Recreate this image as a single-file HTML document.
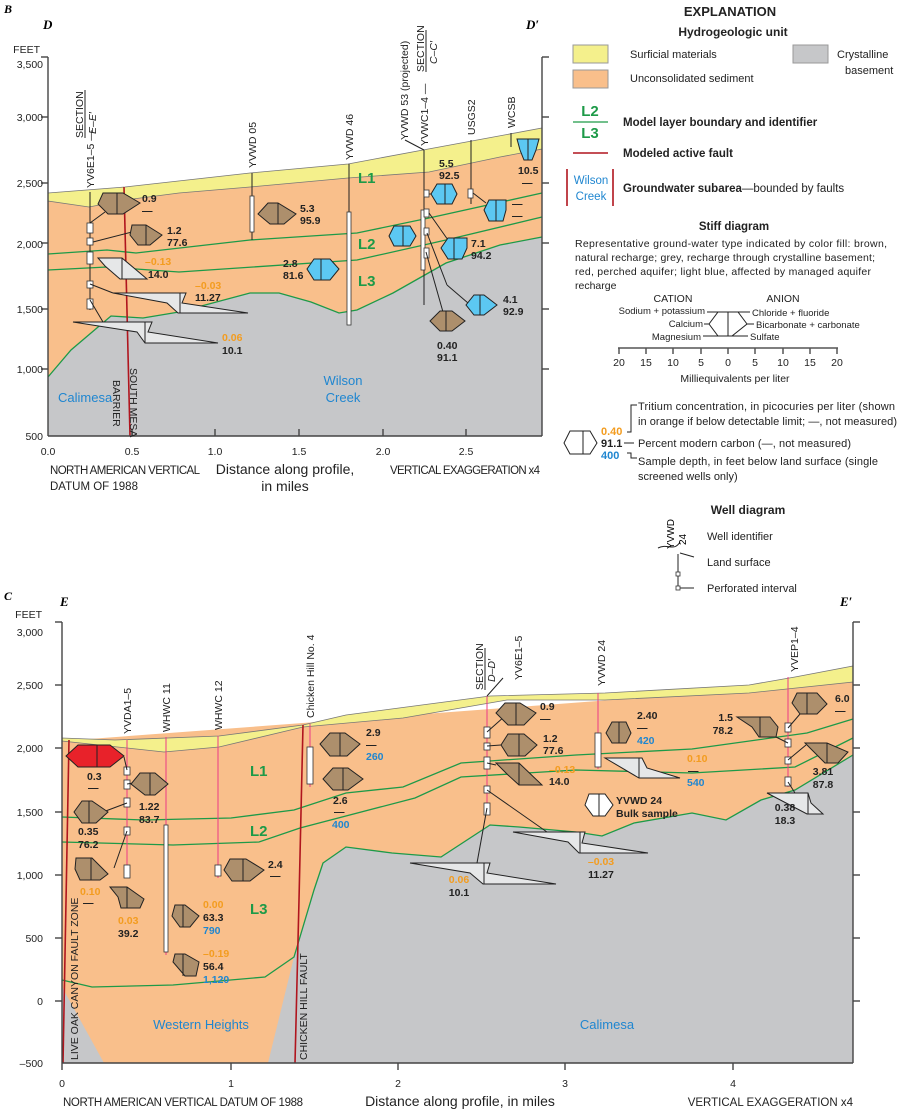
<!DOCTYPE html>
<html><head><meta charset="utf-8"><style>
html,body{margin:0;padding:0;background:#fff}
svg{display:block;font-family:"Liberation Sans",sans-serif}
.t{font-size:10.5px;fill:#222}
.b{font-weight:bold}
.o{fill:#f39c1f}
.bl{fill:#1f86d0}
.br{fill:#ad8f6c;stroke:#222;stroke-width:1}
.cb{fill:#5cc8f2;stroke:#222;stroke-width:1}
.gy{fill:#e6e7e8;stroke:#222;stroke-width:1}
.rd{fill:#e8222a;stroke:#222;stroke-width:1}
.wh{fill:#fff;stroke:#222;stroke-width:1}
.g{fill:none;stroke:#1d9a48;stroke-width:1.3}
.f{stroke:#b0151e;stroke-width:1.6;fill:none}
.w{stroke:#222;stroke-width:1;fill:none}
.pk{stroke:#ec3b86;stroke-width:1;fill:none}
.sc{fill:#fff;stroke:#333;stroke-width:0.8}
.ax{stroke:#444;stroke-width:1.4;fill:none}
.lb{font-size:11.5px;fill:#222}
.L{font-size:15px;font-weight:bold;fill:#1d9a48}
</style></head><body>
<svg width="898" height="1113" viewBox="0 0 898 1113" xmlns="http://www.w3.org/2000/svg">
<!-- ============ PANEL B ============ -->
<text x="4" y="13" class="b" style="font-size:12px;font-style:italic;font-family:'Liberation Serif',serif">B</text>
<text x="43" y="29" class="b" style="font-size:13px;font-style:italic;font-family:'Liberation Serif',serif">D</text>
<text x="526" y="29" class="b" style="font-size:13px;font-style:italic;font-family:'Liberation Serif',serif">D′</text>
<rect x="48" y="57" width="494" height="379" fill="#fff"/>
<polygon fill="#c6c7c9" points="48,377 71,350 111,316 143,318 179,312 250,293 279,293 311,302 339,313 357,310 393,293 446,263 500,245 542,237 542,436 48,436"/>
<polygon fill="#f9bf8b" points="48,201 89,207 125,200 179,193 250,187 348,178 429,172 500,157 542,149 542,237 500,245 446,263 393,293 357,310 339,313 311,302 279,293 250,293 179,312 143,318 111,316 71,350 48,377"/>
<polygon fill="#f4f08c" stroke="#777" stroke-width="0.8" points="48,193 125,187 250,173 348,164 423,150 542,128 542,149 500,157 429,172 348,178 250,187 179,193 125,200 89,207 48,201"/>
<polyline class="g" points="48,254 107,250 136,253 250,240 357,233 429,218 542,193"/>
<polyline class="g" points="48,270 107,267 179,272 357,260 446,240 542,217"/>
<polyline class="g" points="48,377 71,350 111,316 143,318 179,312 250,293 279,293 311,302 339,313 357,310 393,293 446,263 500,245 542,237"/>
<line class="f" x1="124" y1="187" x2="130" y2="436"/>
<line class="ax" x1="48" y1="57" x2="48" y2="436"/>
<line class="ax" x1="542" y1="57" x2="542" y2="436"/>
<line class="ax" x1="48" y1="436" x2="542" y2="436"/>
<line class="ax" x1="41" y1="57" x2="48" y2="57"/><line class="ax" x1="542" y1="57" x2="549" y2="57"/>
<g class="ax">
<line x1="41" y1="117" x2="48" y2="117"/><line x1="41" y1="183" x2="48" y2="183"/><line x1="41" y1="243" x2="48" y2="243"/><line x1="41" y1="309" x2="48" y2="309"/><line x1="41" y1="369" x2="48" y2="369"/>
<line x1="542" y1="117" x2="549" y2="117"/><line x1="542" y1="183" x2="549" y2="183"/><line x1="542" y1="243" x2="549" y2="243"/><line x1="542" y1="309" x2="549" y2="309"/><line x1="542" y1="369" x2="549" y2="369"/>
<line x1="132" y1="429" x2="132" y2="436"/><line x1="215" y1="429" x2="215" y2="436"/><line x1="299" y1="429" x2="299" y2="436"/><line x1="383" y1="429" x2="383" y2="436"/><line x1="466" y1="429" x2="466" y2="436"/>
</g>
<g class="t" text-anchor="end">
<text x="40" y="53">FEET</text>
<text x="43" y="68">3,500</text><text x="43" y="121">3,000</text><text x="43" y="187">2,500</text><text x="43" y="248">2,000</text><text x="43" y="313">1,500</text><text x="43" y="373">1,000</text><text x="43" y="440">500</text>
</g>
<g class="t" text-anchor="middle">
<text x="48" y="455">0.0</text><text x="132" y="455">0.5</text><text x="215" y="455">1.0</text><text x="299" y="455">1.5</text><text x="383" y="455">2.0</text><text x="466" y="455">2.5</text>
</g>
<text x="50" y="474" class="lb" textLength="150">NORTH AMERICAN VERTICAL</text>
<text x="50" y="490" class="lb">DATUM OF 1988</text>
<text x="285" y="474" text-anchor="middle" style="font-size:14px;fill:#222">Distance along profile,</text>
<text x="285" y="491" text-anchor="middle" style="font-size:14px;fill:#222">in miles</text>
<text x="390" y="474" class="lb" textLength="150">VERTICAL EXAGGERATION x4</text>
<text x="58" y="402" class="bl" style="font-size:13px">Calimesa</text>
<text x="343" y="385" class="bl" text-anchor="middle" style="font-size:13px">Wilson</text>
<text x="343" y="402" class="bl" text-anchor="middle" style="font-size:13px">Creek</text>
<text transform="translate(130,368) rotate(90)" class="t">SOUTH MESA</text>
<text transform="translate(113,380) rotate(90)" class="t">BARRIER</text>
<text x="358" y="183" class="L">L1</text><text x="358" y="249" class="L">L2</text><text x="358" y="286" class="L">L3</text>
<g class="w">
<line x1="90" y1="192" x2="90" y2="310"/><line x1="252" y1="173" x2="252" y2="240"/><line x1="349" y1="164" x2="349" y2="325"/>
<line x1="424" y1="150" x2="424" y2="305"/><line x1="471" y1="140" x2="471" y2="204"/><line x1="511" y1="133" x2="511" y2="147"/>
<line x1="424" y1="150" x2="405" y2="140"/>
</g>
<g class="sc">
<rect x="87" y="223" width="6" height="10"/><rect x="87" y="238" width="6" height="7"/><rect x="87" y="252" width="6" height="12"/><rect x="87" y="281" width="6" height="7"/><rect x="87" y="299" width="6" height="10"/>
<rect x="250" y="196" width="4" height="36"/><rect x="347" y="212" width="4" height="113"/>
<rect x="421" y="210" width="4" height="60"/>
<rect x="424" y="190" width="5" height="7"/><rect x="424" y="209" width="5" height="8"/><rect x="424" y="228" width="5" height="7"/><rect x="424" y="248" width="5" height="10"/>
<rect x="468" y="189" width="5" height="9"/>
</g>
<g class="t">
<text transform="translate(94,188) rotate(-90)">YV6E1–5 —</text>
<text transform="translate(83,138) rotate(-90)">SECTION</text>
<line x1="85" y1="90" x2="85" y2="138" stroke="#222"/>
<text transform="translate(96,134) rotate(-90)" style="font-style:italic">E–E′</text>
<text transform="translate(256,168) rotate(-90)">YVWD 05</text>
<text transform="translate(353,160) rotate(-90)">YVWD 46</text>
<text transform="translate(408,140) rotate(-90)">YVWD 53 (projected)</text>
<text transform="translate(428,146) rotate(-90)">YVWC1–4 —</text>
<text transform="translate(424,72) rotate(-90)">SECTION</text>
<line x1="426" y1="30" x2="426" y2="72" stroke="#222"/>
<text transform="translate(437,64) rotate(-90)" style="font-style:italic">C–C′</text>
<text transform="translate(475,135) rotate(-90)">USGS2</text>
<text transform="translate(515,128) rotate(-90)">WCSB</text>
</g>
<g class="w" stroke-width="0.8">
<line x1="90" y1="223" x2="105" y2="212"/><line x1="93" y1="242" x2="132" y2="232"/><line x1="90" y1="300" x2="103" y2="322"/>
<line x1="90" y1="284" x2="113" y2="293"/><line x1="429" y1="194" x2="431" y2="194"/><line x1="473" y1="193" x2="486" y2="203"/>
<line x1="429" y1="213" x2="448" y2="240"/><line x1="427" y1="233" x2="447" y2="285"/><line x1="447" y1="285" x2="468" y2="303"/><line x1="426" y1="252" x2="443" y2="312"/>
</g>
<polygon class="br" points="103,193 123,193 140,203 123,214 108,214 98,204"/><line class="w" x1="117" y1="193" x2="117" y2="214"/>
<polygon class="br" points="132,225 146,225 162,235 150,245 138,245 130,235"/><line class="w" x1="146" y1="225" x2="146" y2="245"/>
<polygon class="gy" points="98,258 122,258 147,279 120,279 105,266"/><line class="w" x1="122" y1="258" x2="122" y2="279"/>
<polygon class="gy" points="113,293 186,293 182,303 248,313 178,313 167,303"/><line class="w" x1="180" y1="293" x2="180" y2="313"/>
<polygon class="gy" points="73,322 152,322 148,332 218,343 145,343 137,332"/><line class="w" x1="145" y1="322" x2="145" y2="343"/>
<polygon class="br" points="268,203 278,203 296,214 284,224 270,224 258,214"/><line class="w" x1="278" y1="203" x2="278" y2="224"/>
<polygon class="cb" points="314,259 330,259 339,269 330,280 314,280 307,269"/><line class="w" x1="321" y1="259" x2="321" y2="280"/>
<polygon class="cb" points="394,226 410,226 416,236 410,246 394,246 389,236"/><line class="w" x1="403" y1="226" x2="403" y2="246"/>
<polygon class="cb" points="437,184 452,184 457,194 452,204 437,204 431,194"/><line class="w" x1="445" y1="184" x2="445" y2="204"/>
<polygon class="cb" points="489,200 506,200 506,210 503,221 489,221 484,210"/><line class="w" x1="496" y1="200" x2="496" y2="221"/>
<polygon class="cb" points="448,238 467,238 467,248 462,259 448,259 441,248"/><line class="w" x1="454" y1="238" x2="454" y2="259"/>
<polygon class="cb" points="474,295 484,295 497,305 484,315 474,315 466,305"/><line class="w" x1="480" y1="295" x2="480" y2="315"/>
<polygon class="br" points="440,311 452,311 465,321 452,331 440,331 430,321"/><line class="w" x1="446" y1="311" x2="446" y2="331"/>
<polygon class="cb" points="517,139 539,139 536,150 532,160 524,160 520,150"/><line class="w" x1="528" y1="139" x2="528" y2="160"/>
<g class="t b">
<text x="142" y="202">0.9</text><text x="142" y="214">—</text>
<text x="167" y="234">1.2</text><text x="167" y="246">77.6</text>
<text x="145" y="265" class="o">–0.13</text><text x="148" y="278">14.0</text>
<text x="195" y="289" class="o">–0.03</text><text x="195" y="301">11.27</text>
<text x="222" y="341" class="o">0.06</text><text x="222" y="354">10.1</text>
<text x="300" y="212">5.3</text><text x="300" y="224">95.9</text>
<text x="283" y="267">2.8</text><text x="283" y="279">81.6</text>
<text x="439" y="167">5.5</text><text x="439" y="179">92.5</text>
<text x="512" y="207">—</text><text x="512" y="219">—</text>
<text x="471" y="247">7.1</text><text x="471" y="259">94.2</text>
<text x="503" y="303">4.1</text><text x="503" y="315">92.9</text>
<text x="437" y="349">0.40</text><text x="437" y="361">91.1</text>
<text x="518" y="174">10.5</text><text x="522" y="186">—</text>
</g>

<!-- ============ LEGEND ============ -->
<g class="lb">
<text x="730" y="16" text-anchor="middle" class="b" style="font-size:13px">EXPLANATION</text>
<text x="733" y="36" text-anchor="middle" class="b" style="font-size:12px">Hydrogeologic unit</text>
<rect x="573" y="45" width="35" height="18" fill="#f4f08c" stroke="#999"/>
<rect x="573" y="70" width="35" height="18" fill="#f9bf8b" stroke="#999"/>
<rect x="793" y="45" width="35" height="18" fill="#c6c7c9" stroke="#999"/>
<text x="630" y="58" style="font-size:11px">Surficial materials</text>
<text x="630" y="82" style="font-size:11px">Unconsolidated sediment</text>
<text x="837" y="58" style="font-size:11px">Crystalline</text>
<text x="845" y="74" style="font-size:11px">basement</text>
<text x="590" y="116" text-anchor="middle" class="L">L2</text>
<line x1="573" y1="122" x2="608" y2="122" stroke="#1d9a48" stroke-width="1.3"/>
<text x="590" y="138" text-anchor="middle" class="L">L3</text>
<text x="623" y="126" class="b">Model layer boundary and identifier</text>
<line x1="573" y1="153" x2="608" y2="153" class="f"/>
<text x="623" y="157" class="b">Modeled active fault</text>
<line x1="567" y1="169" x2="567" y2="206" class="f"/><line x1="613" y1="169" x2="613" y2="206" class="f"/>
<text x="591" y="184" text-anchor="middle" class="bl">Wilson</text>
<text x="591" y="200" text-anchor="middle" class="bl">Creek</text>
<text x="623" y="192"><tspan class="b">Groundwater subarea</tspan>—bounded by faults</text>
<text x="734" y="230" text-anchor="middle" class="b">Stiff diagram</text>
<text x="575" y="247" style="font-size:10.5px" textLength="312">Representative ground-water type indicated by color fill: brown,</text>
<text x="575" y="261" style="font-size:10.5px" textLength="300">natural recharge; grey, recharge through crystalline basement;</text>
<text x="575" y="275" style="font-size:10.5px" textLength="296">red, perched aquifer; light blue, affected by managed aquifer</text>
<text x="575" y="289" style="font-size:10.5px">recharge</text>
<text x="673" y="302" text-anchor="middle" style="font-size:10.5px">CATION</text>
<text x="783" y="302" text-anchor="middle" style="font-size:10.5px">ANION</text>
<g style="font-size:9.5px">
<text x="705" y="314" text-anchor="end">Sodium + potassium</text>
<text x="703" y="327" text-anchor="end">Calcium</text>
<text x="701" y="340" text-anchor="end">Magnesium</text>
<text x="752" y="316">Chloride + fluoride</text>
<text x="756" y="328">Bicarbonate + carbonate</text>
<text x="750" y="340">Sulfate</text>
</g>
</g>
<g class="w" stroke-width="0.8">
<polygon points="718,312 738,312 747,324 732,336 718,336 709,324"/>
<line x1="728" y1="312" x2="728" y2="336"/>
<line x1="707" y1="312" x2="718" y2="312"/><line x1="704" y1="324" x2="709" y2="324"/><line x1="703" y1="336" x2="718" y2="336"/>
<line x1="738" y1="312" x2="750" y2="312"/><line x1="747" y1="324" x2="754" y2="324"/><line x1="732" y1="336" x2="748" y2="336"/>
</g>
<g stroke="#555" stroke-width="1.5">
<line x1="618" y1="348" x2="838" y2="348"/>
<line x1="619" y1="348" x2="619" y2="354"/><line x1="646" y1="348" x2="646" y2="354"/><line x1="673" y1="348" x2="673" y2="354"/><line x1="701" y1="348" x2="701" y2="354"/><line x1="728" y1="348" x2="728" y2="354"/><line x1="755" y1="348" x2="755" y2="354"/><line x1="783" y1="348" x2="783" y2="354"/><line x1="810" y1="348" x2="810" y2="354"/><line x1="837" y1="348" x2="837" y2="354"/>
</g>
<g class="lb" text-anchor="middle" style="font-size:10.5px">
<text x="619" y="366">20</text><text x="646" y="366">15</text><text x="673" y="366">10</text><text x="701" y="366">5</text><text x="728" y="366">0</text><text x="755" y="366">5</text><text x="783" y="366">10</text><text x="810" y="366">15</text><text x="837" y="366">20</text>
<text x="735" y="382">Milliequivalents per liter</text>
</g>
<polygon class="wh" points="570,431 590,431 597,443 590,454 570,454 564,443"/><line class="w" x1="583" y1="431" x2="583" y2="454"/>
<g class="b" style="font-size:11px">
<text x="601" y="435" class="o">0.40</text><text x="601" y="447" fill="#222">91.1</text><text x="601" y="459" class="bl">400</text>
</g>
<g class="w" stroke-width="0.8">
<polyline points="627,432 631,432 631,405 637,405"/>
<line x1="624" y1="443" x2="634" y2="443"/>
<polyline points="627,453 631,453 631,458 637,458"/>
</g>
<g class="lb" style="font-size:11px">
<text x="638" y="410" textLength="257">Tritium concentration, in picocuries per liter (shown</text>
<text x="638" y="425" textLength="259">in orange if below detectable limit; —, not measured)</text>
<text x="638" y="447" textLength="213">Percent modern carbon (—, not measured)</text>
<text x="638" y="465" textLength="240">Sample depth, in feet below land surface (single</text>
<text x="638" y="480">screened wells only)</text>
<text x="748" y="514" text-anchor="middle" class="b" style="font-size:12px">Well diagram</text>
<text x="707" y="540">Well identifier</text>
<text x="707" y="566">Land surface</text>
<text x="707" y="592">Perforated interval</text>
</g>
<line class="w" x1="678" y1="554" x2="678" y2="590"/>
<path class="w" stroke-width="0.8" d="M658,548 C668,543 674,552 680,542 M680,553 L694,557 M678,588 L694,588"/>
<rect class="sc" x="676" y="572" width="4" height="4"/><rect class="sc" x="676" y="586" width="4" height="4"/>
<text transform="translate(674,549) rotate(-90)" style="font-size:10px">YVWD</text>
<text transform="translate(686,545) rotate(-90)" style="font-size:10px">24</text>

<!-- ============ PANEL C ============ -->
<text x="4" y="600" class="b" style="font-size:12px;font-style:italic;font-family:'Liberation Serif',serif">C</text>
<text x="60" y="606" class="b" style="font-size:13px;font-style:italic;font-family:'Liberation Serif',serif">E</text>
<text x="840" y="606" class="b" style="font-size:13px;font-style:italic;font-family:'Liberation Serif',serif">E′</text>
<polygon fill="#f9bf8b" points="62,741 853,682 853,1063 62,1063"/>
<polygon fill="#c6c7c9" points="268,1063 294,957 314,890 323,863 346,847 392,853 441,857 490,825 519,827 576,832 602,836 634,823 692,813 726,820 761,800 795,790 853,755 853,1063"/>
<polygon fill="#c6c7c9" points="62,987 104,1063 62,1063"/>
<polygon fill="#f4f08c" stroke="#777" stroke-width="0.8" points="62,738 115,740 219,736 303,725 346,715 490,696 605,693 749,685 795,677 853,666 853,682 749,693 605,700 507,700 403,718 303,727 219,747 164,752 62,741"/>
<polyline class="g" points="62,817 144,820 231,818 294,810 346,793 403,787 461,763 576,755 692,749 807,733 853,719"/>
<polyline class="g" points="62,842 173,845 259,842 300,828 415,798 461,777 576,770 692,773 795,767 853,738"/>
<polyline class="g" points="62,980 92,987 173,985 265,977 294,957 314,890 323,863 346,847 392,853 441,857 490,825 519,827 576,832 602,836 634,823 692,813 726,820 761,800 795,790 853,755"/>
<line class="f" x1="69" y1="740" x2="63" y2="1063"/>
<polyline class="f" points="303,725 299,900 295,1063"/>
<line class="ax" x1="62" y1="622" x2="62" y2="1063"/>
<line class="ax" x1="853" y1="622" x2="853" y2="1063"/>
<line class="ax" x1="62" y1="1063" x2="853" y2="1063"/>
<g class="ax">
<line x1="55" y1="622" x2="62" y2="622"/><line x1="55" y1="685" x2="62" y2="685"/><line x1="55" y1="748" x2="62" y2="748"/><line x1="55" y1="812" x2="62" y2="812"/><line x1="55" y1="875" x2="62" y2="875"/><line x1="55" y1="938" x2="62" y2="938"/><line x1="55" y1="1001" x2="62" y2="1001"/>
<line x1="853" y1="622" x2="860" y2="622"/><line x1="853" y1="685" x2="860" y2="685"/><line x1="853" y1="748" x2="860" y2="748"/><line x1="853" y1="812" x2="860" y2="812"/><line x1="853" y1="875" x2="860" y2="875"/><line x1="853" y1="938" x2="860" y2="938"/><line x1="853" y1="1001" x2="860" y2="1001"/>
<line x1="231" y1="1063" x2="231" y2="1070"/><line x1="398" y1="1063" x2="398" y2="1070"/><line x1="565" y1="1063" x2="565" y2="1070"/><line x1="733" y1="1063" x2="733" y2="1070"/><line x1="62" y1="1063" x2="62" y2="1070"/>
</g>
<g class="t" text-anchor="end">
<text x="42" y="618">FEET</text>
<text x="43" y="636">3,000</text><text x="43" y="689">2,500</text><text x="43" y="752">2,000</text><text x="43" y="816">1,500</text><text x="43" y="879">1,000</text><text x="43" y="942">500</text><text x="43" y="1005">0</text><text x="43" y="1067">–500</text>
</g>
<g class="t" text-anchor="middle">
<text x="62" y="1087">0</text><text x="231" y="1087">1</text><text x="398" y="1087">2</text><text x="565" y="1087">3</text><text x="733" y="1087">4</text>
</g>
<text x="63" y="1106" class="lb" textLength="240">NORTH AMERICAN VERTICAL DATUM OF 1988</text>
<text x="460" y="1106" text-anchor="middle" style="font-size:14px;fill:#222">Distance along profile, in miles</text>
<text x="853" y="1106" text-anchor="end" class="lb">VERTICAL EXAGGERATION x4</text>
<text x="201" y="1029" text-anchor="middle" class="bl" style="font-size:13px">Western Heights</text>
<text x="607" y="1029" text-anchor="middle" class="bl" style="font-size:13px">Calimesa</text>
<text transform="translate(78,1060) rotate(-90)" class="t">LIVE OAK CANYON FAULT ZONE</text>
<text transform="translate(307,1060) rotate(-90)" class="t">CHICKEN HILL FAULT</text>
<text x="250" y="776" class="L">L1</text><text x="250" y="836" class="L">L2</text><text x="250" y="914" class="L">L3</text>
<g class="pk">
<line x1="127" y1="740" x2="127" y2="878"/><line x1="166" y1="737" x2="166" y2="955"/><line x1="218" y1="736" x2="218" y2="878"/>
<line x1="310" y1="724" x2="310" y2="787"/><line x1="487" y1="696" x2="487" y2="815"/><line x1="598" y1="693" x2="598" y2="769"/><line x1="788" y1="677" x2="788" y2="787"/>
</g>
<g class="sc">
<rect x="124" y="767" width="6" height="8"/><rect x="124" y="780" width="6" height="9"/><rect x="124" y="798" width="6" height="9"/><rect x="124" y="827" width="6" height="8"/><rect x="124" y="865" width="6" height="13"/>
<rect x="164" y="825" width="4" height="127"/>
<rect x="215" y="865" width="6" height="11"/>
<rect x="307" y="747" width="6" height="37"/>
<rect x="484" y="727" width="6" height="11"/><rect x="484" y="743" width="6" height="7"/><rect x="484" y="757" width="6" height="12"/><rect x="484" y="786" width="6" height="7"/><rect x="484" y="803" width="6" height="12"/>
<rect x="595" y="733" width="6" height="34"/>
<rect x="785" y="723" width="6" height="9"/><rect x="785" y="739" width="6" height="8"/><rect x="785" y="757" width="6" height="7"/><rect x="785" y="777" width="6" height="9"/>
</g>
<g class="t">
<text transform="translate(131,734) rotate(-90)">YVDA1–5</text>
<text transform="translate(170,732) rotate(-90)">WHWC 11</text>
<text transform="translate(222,730) rotate(-90)">WHWC 12</text>
<text transform="translate(314,718) rotate(-90)">Chicken Hill No. 4</text>
<text transform="translate(483,690) rotate(-90)">SECTION</text>
<line x1="485" y1="648" x2="485" y2="690" stroke="#222"/>
<text transform="translate(495,682) rotate(-90)" style="font-style:italic">D–D′</text>
<text transform="translate(522,680) rotate(-90)">YV6E1–5</text>
<line x1="487" y1="696" x2="503" y2="678" stroke="#222"/>
<text transform="translate(605,686) rotate(-90)">YVWD 24</text>
<text transform="translate(798,672) rotate(-90)">YVEP1–4</text>
</g>
<g class="w" stroke-width="0.8">
<line x1="127" y1="770" x2="124" y2="757"/><line x1="127" y1="784" x2="140" y2="782"/><line x1="127" y1="803" x2="103" y2="812"/>
<line x1="127" y1="831" x2="114" y2="868"/><line x1="487" y1="732" x2="505" y2="716"/><line x1="487" y1="746" x2="501" y2="745"/>
<line x1="487" y1="763" x2="496" y2="765"/><line x1="487" y1="790" x2="547" y2="832"/><line x1="487" y1="808" x2="477" y2="863"/>
<line x1="788" y1="728" x2="800" y2="714"/><line x1="788" y1="743" x2="776" y2="737"/><line x1="788" y1="760" x2="806" y2="745"/><line x1="788" y1="782" x2="795" y2="793"/>
</g>
<polygon class="rd" points="78,745 110,745 124,756 110,767 78,767 66,756"/><line class="w" x1="97" y1="745" x2="97" y2="767"/>
<polygon class="br" points="140,773 155,773 168,784 155,795 145,795 131,784"/><line class="w" x1="150" y1="773" x2="150" y2="795"/>
<polygon class="br" points="82,801 92,801 108,812 96,823 82,823 74,812"/><line class="w" x1="89" y1="801" x2="89" y2="823"/>
<polygon class="br" points="76,858 92,858 108,874 100,880 80,880 75,869"/><line class="w" x1="91" y1="858" x2="91" y2="880"/>
<polygon class="br" points="110,887 127,887 144,899 140,908 121,908 118,897"/><line class="w" x1="127" y1="887" x2="127" y2="908"/>
<polygon class="br" points="230,859 246,859 264,870 250,881 232,881 224,870"/><line class="w" x1="243" y1="859" x2="243" y2="881"/>
<polygon class="br" points="175,905 185,905 199,916 190,927 180,927 172,916"/><line class="w" x1="183" y1="905" x2="183" y2="927"/>
<polygon class="br" points="175,954 185,954 199,962 196,976 185,976 173,962"/><line class="w" x1="183" y1="954" x2="183" y2="976"/>
<polygon class="br" points="330,733 345,733 360,744 347,756 330,756 320,744"/><line class="w" x1="340" y1="733" x2="340" y2="756"/>
<polygon class="br" points="333,768 348,768 363,779 348,790 333,790 323,779"/><line class="w" x1="343" y1="768" x2="343" y2="790"/>
<polygon class="br" points="505,703 520,703 536,713 524,725 508,725 496,713"/><line class="w" x1="516" y1="703" x2="516" y2="725"/>
<polygon class="br" points="508,734 524,734 537,745 525,756 508,756 501,745"/><line class="w" x1="519" y1="734" x2="519" y2="756"/>
<polygon class="br" points="496,763 519,763 542,785 519,785 508,775"/><line class="w" x1="519" y1="763" x2="519" y2="785"/>
<polygon class="br" points="612,722 626,722 631,733 626,743 612,743 606,733"/><line class="w" x1="619" y1="722" x2="619" y2="743"/>
<polygon class="gy" points="605,758 642,758 647,768 680,778 639,778"/><line class="w" x1="639" y1="758" x2="639" y2="778"/>
<polygon class="wh" points="589,794 605,794 613,805 605,816 593,816 585,805"/><line class="w" x1="599" y1="794" x2="599" y2="816"/>
<polygon class="br" points="737,717 770,717 778,727 776,737 759,737 752,727"/><line class="w" x1="760" y1="717" x2="760" y2="737"/>
<polygon class="br" points="797,693 817,693 827,704 817,714 800,714 792,703"/><line class="w" x1="807" y1="693" x2="807" y2="714"/>
<polygon class="br" points="805,743 827,743 848,752 838,763 825,763"/><line class="w" x1="827" y1="743" x2="827" y2="763"/>
<polygon class="gy" points="767,793 808,793 811,803 823,814 807,814"/><line class="w" x1="808" y1="793" x2="808" y2="814"/>
<polygon class="gy" points="513,832 585,832 582,843 648,853 579,853 568,842"/><line class="w" x1="580" y1="832" x2="580" y2="853"/>
<polygon class="gy" points="410,863 490,863 487,873 556,884 483,884 470,873"/><line class="w" x1="484" y1="863" x2="484" y2="884"/>
<g class="t b" style="font-size:10.5px">
<text x="87" y="780">0.3</text><text x="88" y="791">—</text>
<text x="139" y="810">1.22</text><text x="139" y="823">83.7</text>
<text x="78" y="835">0.35</text><text x="78" y="848">76.2</text>
<text x="80" y="895" class="o">0.10</text><text x="83" y="906">—</text>
<text x="118" y="924" class="o">0.03</text><text x="118" y="937">39.2</text>
<text x="268" y="868">2.4</text><text x="270" y="879">—</text>
<text x="203" y="908" class="o">0.00</text><text x="203" y="921">63.3</text><text x="203" y="934" class="bl">790</text>
<text x="203" y="957" class="o">–0.19</text><text x="203" y="970">56.4</text><text x="203" y="983" class="bl">1,120</text>
<text x="366" y="736">2.9</text><text x="366" y="748">—</text><text x="366" y="760" class="bl">260</text>
<text x="333" y="804">2.6</text><text x="334" y="815">—</text><text x="332" y="828" class="bl">400</text>
<text x="540" y="710">0.9</text><text x="540" y="722">—</text>
<text x="543" y="742">1.2</text><text x="543" y="754">77.6</text>
<text x="549" y="773" class="o">–0.13</text><text x="549" y="785">14.0</text>
<text x="637" y="719">2.40</text><text x="637" y="731">—</text><text x="637" y="744" class="bl">420</text>
<text x="687" y="762" class="o">0.10</text><text x="688" y="774">—</text><text x="687" y="786" class="bl">540</text>
<text x="616" y="804">YVWD 24</text><text x="616" y="817">Bulk sample</text>
<text x="733" y="721" text-anchor="end">1.5</text><text x="733" y="734" text-anchor="end">78.2</text>
<text x="835" y="702">6.0</text><text x="835" y="714">—</text>
<text x="823" y="775" text-anchor="middle">3.81</text><text x="823" y="788" text-anchor="middle">87.8</text>
<text x="785" y="811" text-anchor="middle">0.38</text><text x="785" y="824" text-anchor="middle">18.3</text>
<text x="601" y="865" text-anchor="middle" class="o">–0.03</text><text x="601" y="878" text-anchor="middle">11.27</text>
<text x="459" y="883" text-anchor="middle" class="o">0.06</text><text x="459" y="896" text-anchor="middle">10.1</text>
</g>
</svg>
</body></html>
